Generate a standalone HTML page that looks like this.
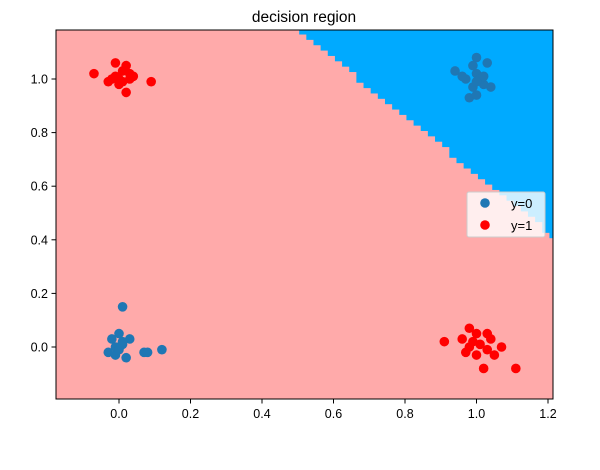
<!DOCTYPE html>
<html><head><meta charset="utf-8"><style>
body{margin:0;background:#fff;font-family:"Liberation Sans",sans-serif}
svg text{font-family:"Liberation Sans",sans-serif}
</style></head><body>
<svg id="chart" width="600" height="465">
<text x="304" y="22" font-size="15.5" text-anchor="middle">decision region</text>
<clipPath id="clip"><rect x="56" y="30" width="497" height="369"/></clipPath>
<g id="regions" clip-path="url(#clip)"></g>
<g id="points" clip-path="url(#clip)"></g>
<rect x="56" y="30" width="497" height="369" fill="none" stroke="#000" stroke-width="1"/>
<g id="xaxis"></g>
<g id="yaxis"></g>
<g>
<rect x="467" y="192" width="78" height="45" rx="2" fill="#fff" fill-opacity="0.8" stroke="#ccc"/>
<circle cx="485" cy="203" r="4.8" fill="#1f77b4"/>
<text x="511" y="208" font-size="13">y=0</text>
<circle cx="485" cy="225" r="4.8" fill="red"/>
<text x="511" y="230" font-size="13">y=1</text>
</g>
</svg>
<script>
const xTicks=[0.0,0.2,0.4,0.6,0.8,1.0,1.2];
const yTicks=[0.0,0.2,0.4,0.6,0.8,1.0];
const blueX=[0.94,0.97,1.0,1.03,0.99,0.98,1.0,1.04,1.02,0.96,1.0,1.01,0.99,1.0,1.02,0.0,0.01,-0.02,0.03,0.0,-0.03,-0.01,0.02,0.07,0.08,0.12,0.01,-0.01,0.0,0.01];
const blueY=[1.03,1.0,1.08,1.06,0.97,0.93,0.94,0.97,0.98,1.01,1.02,1.0,1.05,0.99,1.01,0.05,0.15,0.03,0.03,0.0,-0.02,-0.03,-0.04,-0.02,-0.02,-0.01,0.01,0.0,-0.01,0.02];
const redX=[-0.07,-0.03,-0.01,0.02,0.03,0.0,0.01,0.02,0.09,-0.02,0.03,0.0,-0.01,0.04,0.01,0.91,0.96,0.98,1.0,1.03,0.97,1.0,1.02,1.05,1.07,1.11,0.98,1.01,1.03,0.99,1.04];
const redY=[1.02,0.99,1.06,1.05,1.02,1.0,1.03,0.95,0.99,1.0,1.0,0.98,1.01,1.01,0.99,0.02,0.03,0.07,0.05,0.05,-0.02,-0.03,-0.08,-0.03,0.0,-0.08,0.0,0.01,-0.01,0.02,0.03];
const boundary=[0.49,1.183,1.214,0.403]; // x0,y0,x1,y1 of decision line (data)
const NS="http://www.w3.org/2000/svg";
const X=v=>119+v*357.5, Y=v=>347-v*268;
const xmin=-0.176,xmax=1.214,ymin=-0.194,ymax=1.183;
function mk(t,a,p){const e=document.createElementNS(NS,t);for(const k in a)e.setAttribute(k,a[k]);p.appendChild(e);return e;}
const reg=document.getElementById('regions');
const bg=mk('rect',{x:56,y:30,width:497,height:369,fill:'#ffaaaa'},reg);


const slope=(boundary[3]-boundary[1])/(boundary[2]-boundary[0]);
const step=0.02;
for(let gx=xmin;gx<xmax;gx+=step){
  const yb=boundary[1]+slope*(gx+step/2-boundary[0]);
  let yq=Math.ceil((yb-ymin)/step)*step+ymin;
  if(yq>=ymax)continue;
  const r=mk('rect',{x:X(gx),y:Y(ymax),width:step*357.5+0.6,height:Y(yq)-Y(ymax),fill:'#00aaff'},reg);
  
  
}
const pts=document.getElementById('points');
blueX.forEach((v,i)=>{const c=mk('circle',{cx:X(v),cy:Y(blueY[i]),r:4.8,fill:'#1f77b4'},pts);

});
redX.forEach((v,i)=>{const c=mk('circle',{cx:X(v),cy:Y(redY[i]),r:4.8,fill:'red'},pts);

});
const xa=document.getElementById('xaxis');
xTicks.forEach(t=>{mk('line',{x1:X(t),x2:X(t),y1:399,y2:403.5,stroke:'#000'},xa);
const tx=mk('text',{x:X(t),y:418,'font-size':12.5,'text-anchor':'middle'},xa);tx.textContent=t.toFixed(1);

});
const ya=document.getElementById('yaxis');
yTicks.forEach(t=>{mk('line',{x1:51.5,x2:56,y1:Y(t),y2:Y(t),stroke:'#000'},ya);
const tx=mk('text',{x:48,y:Y(t)+4.5,'font-size':12.5,'text-anchor':'end'},ya);tx.textContent=t.toFixed(1);

});
</script>
</body></html>
